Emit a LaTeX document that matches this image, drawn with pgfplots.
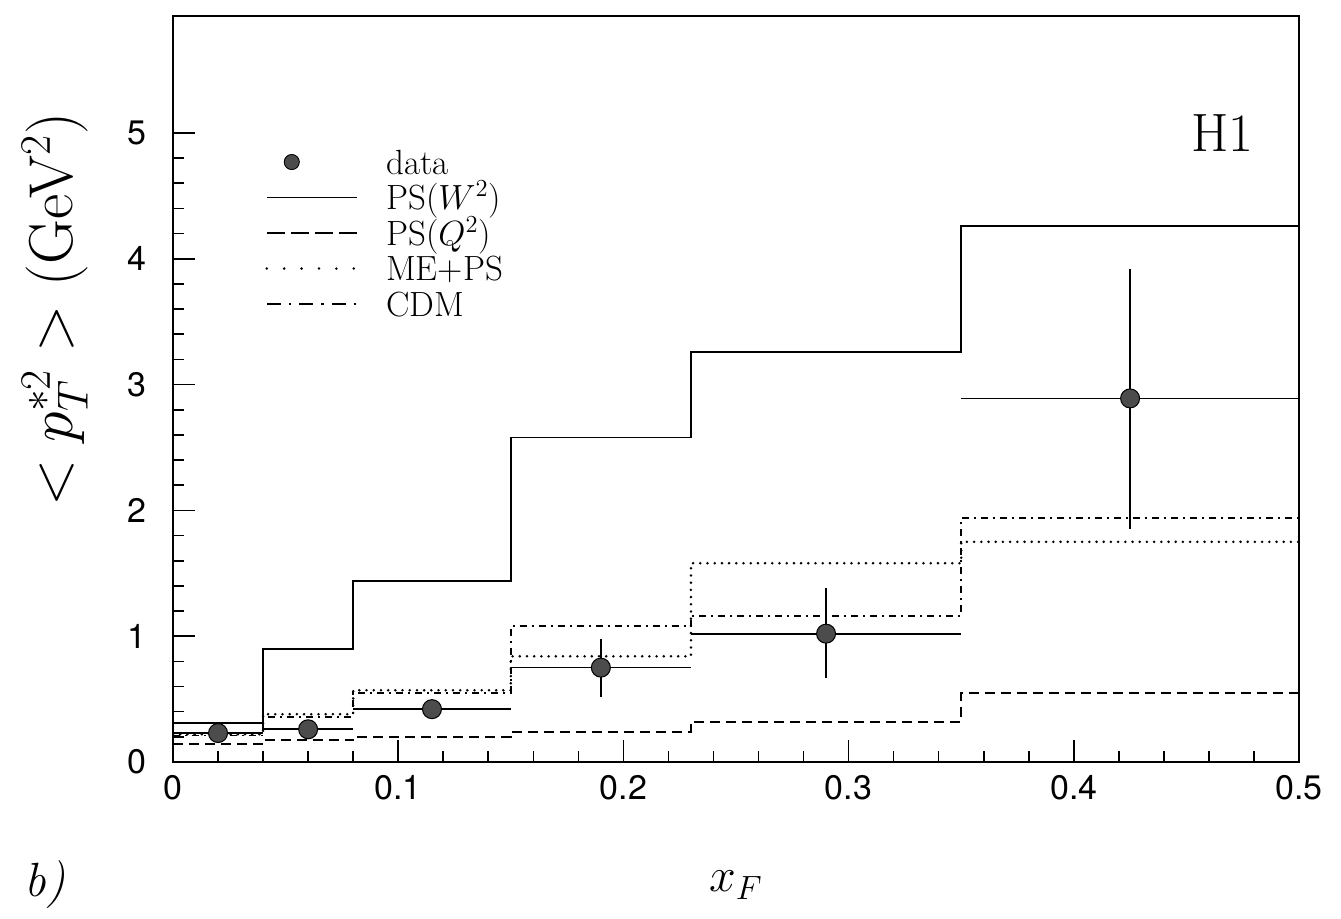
\RequirePackage{fix-cm}
\documentclass[border=0pt]{standalone}
\usepackage{pgfplots}
\pgfplotsset{compat=1.18}
\usepackage{fontspec}
\newfontfamily\tickfont{TeX Gyre Heros}
\begin{document}
\begin{tikzpicture}
\begin{axis}[
  at={(0pt,0pt)}, anchor=south west,
  scale only axis, width=563pt, height=373pt,
  xmin=0, xmax=0.5, ymin=0, ymax=5.93,
  xtick={0,0.1,0.2,0.3,0.4,0.5},
  xticklabels={0,0.1,0.2,0.3,0.4,0.5},
  ytick={0,1,2,3,4,5},
  yticklabels={0,1,2,3,4,5},
  minor x tick num=4, minor y tick num=4,
  xtick pos=left, ytick pos=left,
  tick align=inside,
  major tick length=11pt, minor tick length=5.5pt,
  every tick/.style={line width=0.8pt, black},
  axis line style={line width=1pt},
  /pgf/number format/assume math mode=true,
  ticklabel style={font=\tickfont\fontsize{17}{17}\selectfont},
  xticklabel style={yshift=-3pt},
  yticklabel style={xshift=-10pt},
  xlabel={$x_F$},
  xlabel style={font=\fontsize{24}{24}\selectfont, at={(axis description cs:0.5,-0.165)}, anchor=center},
  ylabel={$<p_T^{*2}>$ (GeV$^2$)},
  ylabel style={font=\fontsize{31}{31}\selectfont, at={(axis description cs:-0.105,0.606)}, anchor=center},
  legend cell align=left,
  legend image code/.code={\draw[#1] (0pt,0pt) -- (45pt,0pt);},
  legend style={at={(axis description cs:0.0817,0.828)}, anchor=north west, draw=none, fill=none,
    inner sep=0pt, row sep=0.4pt, font=\fontsize{17.5}{17.5}\selectfont,
    nodes={inner sep=0pt, text height=14.7pt, text depth=2.65pt},
    /tikz/every odd column/.append style={column sep=14pt}},
]
% PS(W^2)
\addplot[const plot, line width=0.9pt, forget plot] coordinates {
 (0,0.31) (0.04,0.90) (0.08,1.44) (0.15,2.58) (0.23,3.26) (0.35,4.26) (0.5,4.26)};
% PS(Q^2)
\addplot[const plot, line width=0.9pt, dash pattern=on 5pt off 3pt, forget plot] coordinates {
 (0,0.14) (0.04,0.175) (0.08,0.20) (0.15,0.24) (0.23,0.32) (0.35,0.55) (0.5,0.55)};
% ME+PS
\addplot[const plot, line width=1.4pt, line cap=round, dash pattern=on 0pt off 3.6pt, forget plot] coordinates {
 (0,0.22) (0.04,0.38) (0.08,0.57) (0.15,0.84) (0.23,1.58) (0.35,1.75) (0.5,1.75)};
% CDM
\addplot[const plot, line width=0.9pt, dash pattern=on 3.5pt off 2.5pt on 1pt off 2.5pt, forget plot] coordinates {
 (0,0.21) (0.04,0.36) (0.08,0.55) (0.15,1.08) (0.23,1.16) (0.35,1.94) (0.5,1.94)};
% data
\addplot[only marks, mark=*, mark size=4.75pt, mark options={fill=black!70, draw=black, line width=0.5pt}, forget plot,
  error bars/.cd, x dir=both, x explicit, y dir=both, y explicit, error mark=none,
  error bar style={line width=0.85pt, black}]
 coordinates {
 (0.02,0.23) += (0.02,0.02) -= (0.02,0.02)
 (0.06,0.26) += (0.02,0.03) -= (0.02,0.03)
 (0.115,0.42) += (0.035,0.05) -= (0.035,0.05)
 (0.19,0.75) += (0.04,0.23) -= (0.04,0.23)
 (0.29,1.02) += (0.06,0.36) -= (0.06,0.35)
 (0.425,2.89) += (0.075,1.03) -= (0.075,1.04)
 };
\addlegendimage{legend image code/.code={\fill[black!70] (12.5pt,0pt) circle (3.75pt); \draw[line width=0.4pt] (12.5pt,0pt) circle (3.75pt);}}
\addlegendentry{data}
\addlegendimage{line width=0.9pt}
\addlegendentry{PS($W^2$)}
\addlegendimage{line width=0.9pt, dash pattern=on 9pt off 3pt}
\addlegendentry{PS($Q^2$)}
\addlegendimage{line width=1.4pt, line cap=round, dash pattern=on 0pt off 8.7pt}
\addlegendentry{ME+PS}
\addlegendimage{line width=0.9pt, dash pattern=on 7pt off 4pt on 1.2pt off 4pt}
\addlegendentry{CDM}
\node[font=\fontsize{27}{27}\selectfont] at (axis cs:0.466,5.0) {H1};
\end{axis}
\node[font=\fontsize{24}{24}\selectfont\itshape] at (-64pt,-61.5pt) {b)};
\pgfresetboundingbox
\path[use as bounding box] (-86.5pt,-78.5pt) rectangle (584pt,381pt);
\end{tikzpicture}
\end{document}
